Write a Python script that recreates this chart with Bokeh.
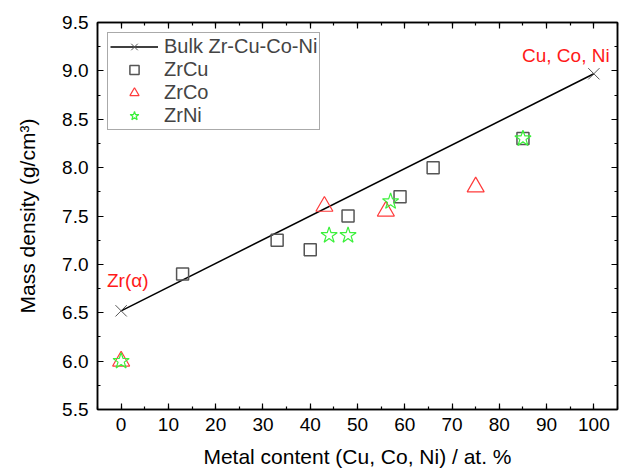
from bokeh.plotting import figure
from bokeh.models import (LinearAxis, SingleIntervalTicker, NumeralTickFormatter, Range1d,
                          Legend, LegendItem, Label)
from bokeh.embed import file_html
from bokeh.resources import INLINE

# ---- data ----
bulk_x = [0, 100]
bulk_y = [6.52, 8.97]

zrcu_x = [13, 33, 40, 48, 59, 66, 85]
zrcu_y = [6.90, 7.25, 7.15, 7.50, 7.70, 8.00, 8.30]

zrco_x = [0, 43, 56, 75]
zrco_y = [6.00, 7.60, 7.55, 7.80]

zrni_x = [0, 44, 48, 57, 85]
zrni_y = [6.00, 7.30, 7.30, 7.65, 8.30]

x_ticks_interval = 10
y_ticks_interval = 0.5

FONT = "Liberation Sans"

p = figure(width=622, height=474, output_backend="svg", toolbar_location=None,
           x_range=Range1d(-5, 105), y_range=Range1d(5.5, 9.5),
           min_border_left=97, min_border_right=5, min_border_top=22, min_border_bottom=65)
p.xgrid.visible = False
p.ygrid.visible = False
p.outline_line_color = "black"
p.outline_line_width = 1.5
p.background_fill_color = "white"
p.border_fill_color = "white"


def style_axis(ax, show_labels=True):
    ax.major_tick_in = 6
    ax.major_tick_out = 0
    ax.minor_tick_in = 3
    ax.minor_tick_out = 0
    ax.axis_line_color = "black"
    ax.axis_line_width = 1.5
    ax.major_tick_line_width = 1.2
    ax.minor_tick_line_width = 1.2
    ax.major_label_text_font = FONT
    if show_labels:
        ax.major_label_text_font_size = "19px"
        ax.major_label_text_color = "black"
    else:
        ax.major_label_text_font_size = "1px"
        ax.major_label_text_color = None
    ax.axis_label_text_font = FONT
    ax.axis_label_text_font_size = "21px"
    ax.axis_label_text_font_style = "normal"
    ax.axis_label_text_color = "black"


p.xaxis.ticker = SingleIntervalTicker(interval=x_ticks_interval, num_minor_ticks=2)
p.yaxis.ticker = SingleIntervalTicker(interval=y_ticks_interval, num_minor_ticks=2)
p.yaxis.formatter = NumeralTickFormatter(format="0.0")
p.xaxis.axis_label = "Metal content (Cu, Co, Ni) / at. %"
p.yaxis.axis_label = "Mass density (g/cm³)"
style_axis(p.xaxis[0])
style_axis(p.yaxis[0])
p.xaxis.major_label_standoff = 8
p.xaxis.axis_label_standoff = 11
p.yaxis.major_label_standoff = 9
p.yaxis.axis_label_standoff = 20

top = LinearAxis(ticker=SingleIntervalTicker(interval=x_ticks_interval, num_minor_ticks=2))
right = LinearAxis(ticker=SingleIntervalTicker(interval=y_ticks_interval, num_minor_ticks=2))
style_axis(top, False)
style_axis(right, False)
top.major_label_standoff = 0
right.major_label_standoff = 0
p.add_layout(top, "above")
p.add_layout(right, "right")

# ---- glyphs ----
line_r = p.line(bulk_x, bulk_y, line_color="black", line_width=1.5)
xr = p.scatter(bulk_x, bulk_y, marker="x", size=16, line_color="#555555", line_width=1)
cu_r = p.scatter(zrcu_x, zrcu_y, marker="square", size=12, fill_color=None,
                 line_color="#555555", line_width=1.5)
co_r = p.scatter(zrco_x, zrco_y, marker="triangle", size=17, fill_color=None,
                 line_color="#ff3b3b", line_width=1.2)
ni_r = p.scatter(zrni_x, zrni_y, marker="star", size=17, fill_color=None,
                 line_color="#3cf03c", line_width=1.2)

legend = Legend(items=[
    LegendItem(label="Bulk Zr-Cu-Co-Ni", renderers=[line_r, xr]),
    LegendItem(label="ZrCu", renderers=[cu_r]),
    LegendItem(label="ZrCo", renderers=[co_r]),
    LegendItem(label="ZrNi", renderers=[ni_r]),
], location="top_left")
legend.margin = 10
legend.padding = 2
legend.spacing = 0
legend.label_height = 23
legend.glyph_height = 23
legend.glyph_width = 48
legend.label_standoff = 6
legend.label_text_font = FONT
legend.label_text_font_size = "20px"
legend.border_line_color = "#555555"
legend.border_line_width = 1
legend.background_fill_alpha = 1
p.add_layout(legend)

p.add_layout(Label(x=-3, y=6.83, text="Zr(α)", text_color="#ff1a1a", text_font=FONT,
                   text_font_size="19px", text_baseline="middle", text_align="left"))
p.add_layout(Label(x=84.8, y=9.16, text="Cu, Co, Ni", text_color="#ff1a1a", text_font=FONT,
                   text_font_size="19px", text_baseline="middle", text_align="left"))

open("out.html", "w").write(file_html(p, INLINE))
